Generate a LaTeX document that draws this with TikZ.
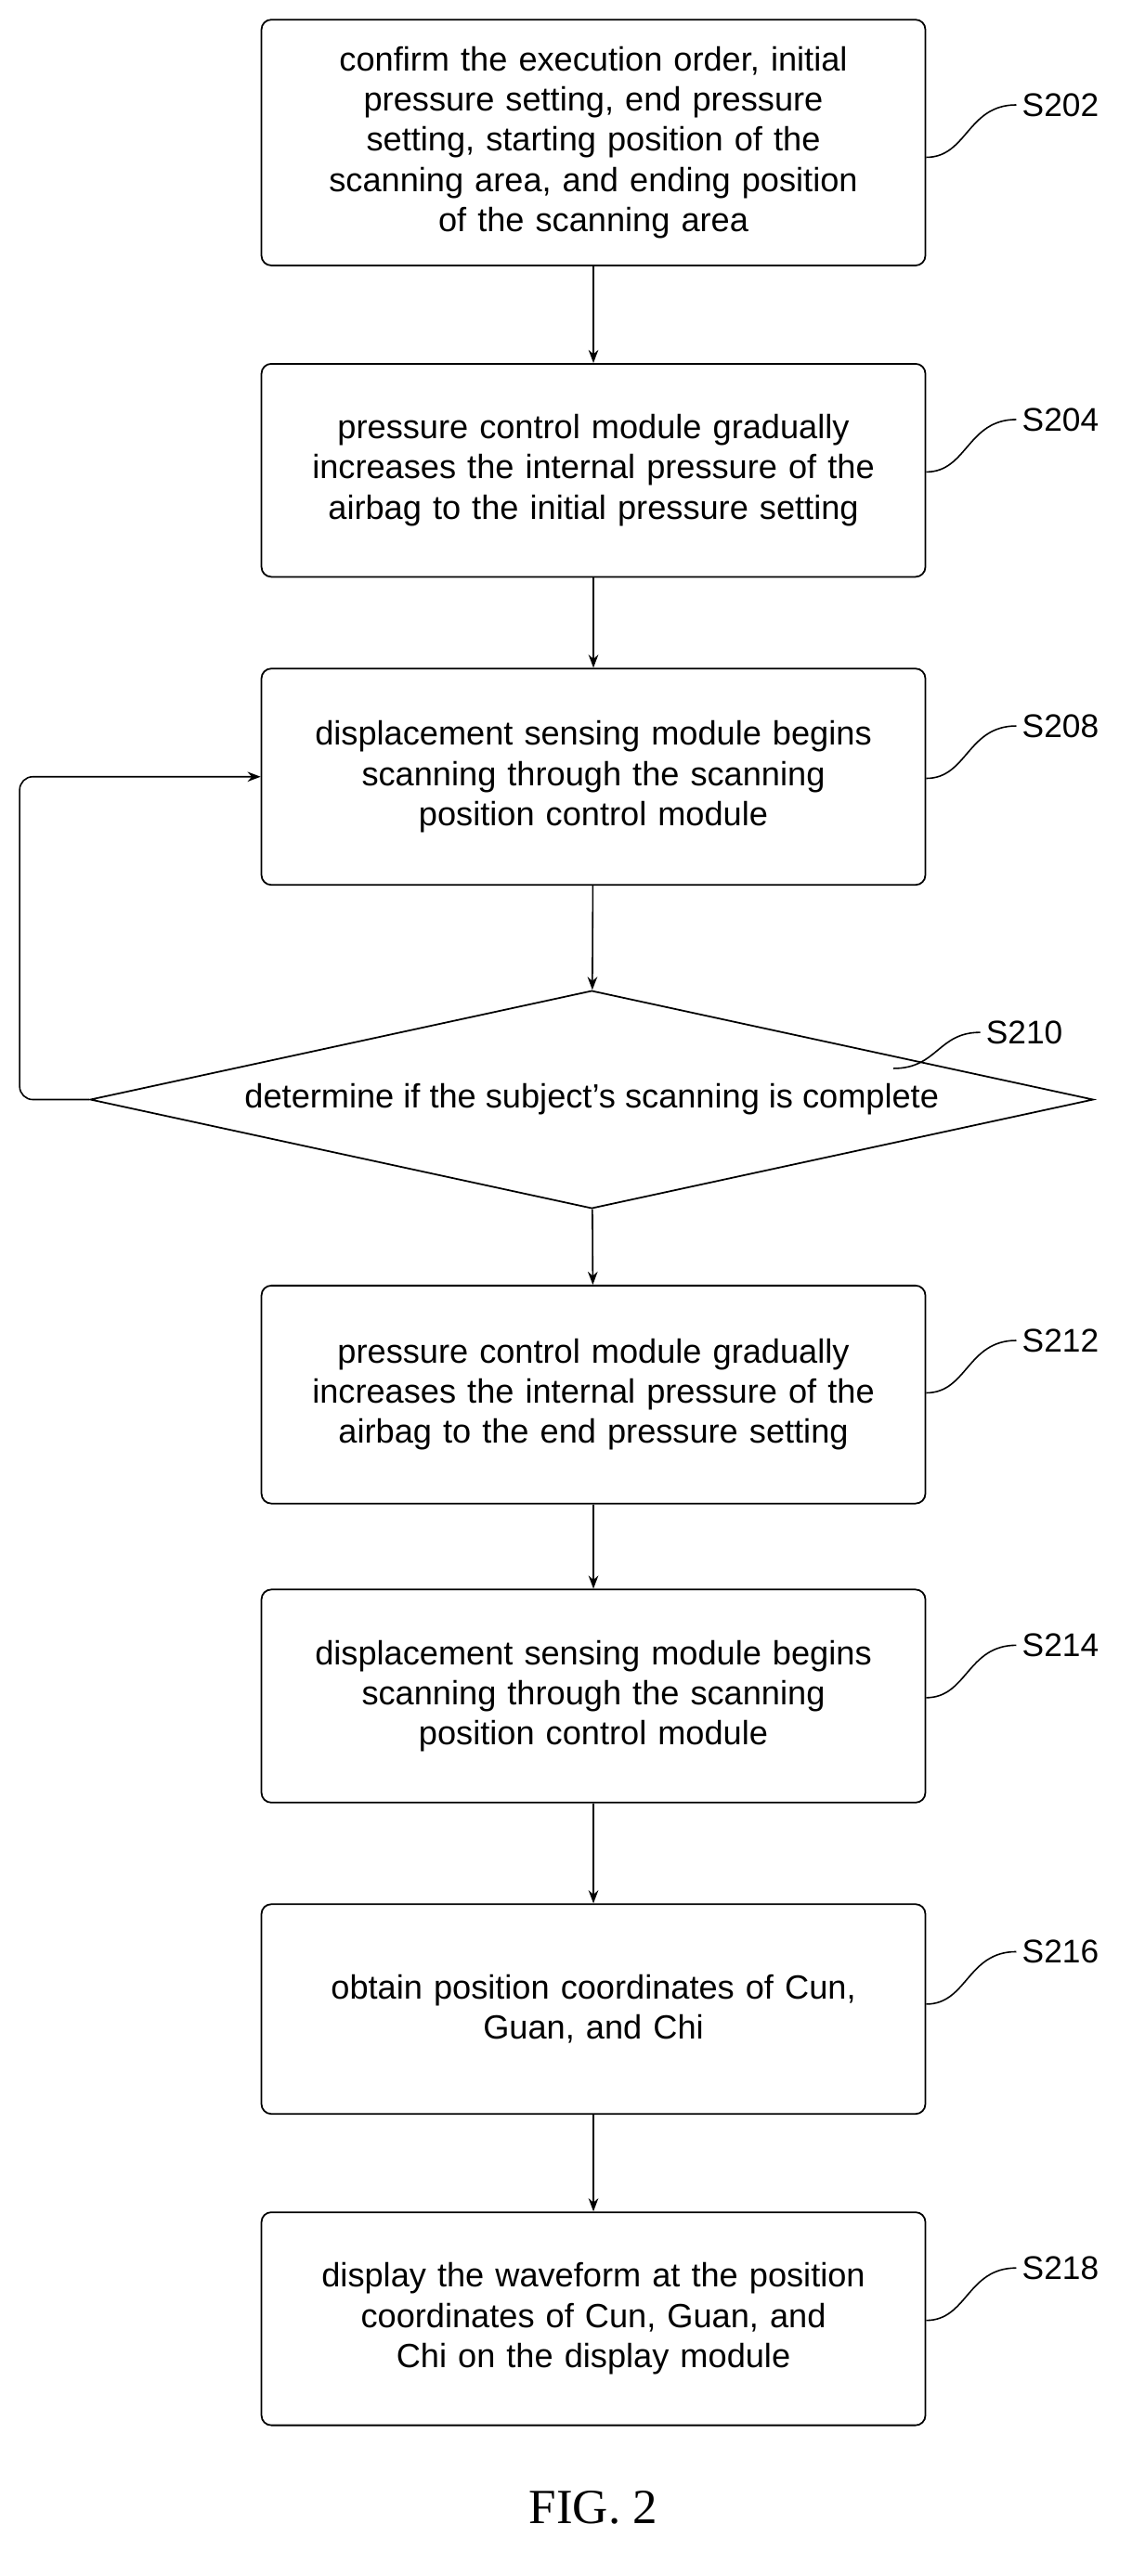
\documentclass[tikz,border=0pt]{standalone}
\usepackage{fontspec}
\setmainfont{Liberation Sans}
\newfontfamily\figfont{Liberation Serif}
\usetikzlibrary{shapes.geometric,arrows.meta}
\begin{document}
\begin{tikzpicture}[x=1pt,y=-1pt,
  box/.style={draw,rounded corners=6pt,line width=1pt,minimum width=405pt,align=center,font=\fontsize{20.5}{24.5}\selectfont,text width=400pt,inner sep=0pt},
  lab/.style={font=\fontsize{20}{24}\selectfont,anchor=west},
  arr/.style={-{Stealth[length=8pt,width=6pt]},line width=0.9pt},
  cv/.style={line width=0.9pt}]
\useasboundingbox (0,0) rectangle (690,1572);
\node[box,minimum height=150pt] (b1) at (362,87) {confirm the execution order, initial\\pressure setting, end pressure\\setting, starting position of the\\scanning area, and ending position\\of the scanning area};
\node[box,minimum height=130pt] (b2) at (362,287) {pressure control module gradually\\increases the internal pressure of the\\airbag to the initial pressure setting};
\node[box,minimum height=132pt] (b3) at (362,474) {displacement sensing module begins\\scanning through the scanning\\position control module};
\node[draw,diamond,aspect=4.6,line width=1pt,minimum width=612pt,minimum height=133pt,inner sep=0pt,font=\fontsize{20.5}{24.5}\selectfont] (d) at (361,671) {determine if the subject's scanning is complete};
\node[box,minimum height=133pt] (b4) at (362,851) {pressure control module gradually\\increases the internal pressure of the\\airbag to the end pressure setting};
\node[box,minimum height=130pt] (b5) at (362,1035) {displacement sensing module begins\\scanning through the scanning\\position control module};
\node[box,minimum height=128pt] (b6) at (362,1226) {obtain position coordinates of Cun,\\Guan, and Chi};
\node[box,minimum height=130pt] (b7) at (362,1415) {display the waveform at the position\\coordinates of Cun, Guan, and\\Chi on the display module};
\node[font=\figfont\fontsize{30}{34}\selectfont] (fig) at (362,1530) {FIG. 2};
\draw[arr] (b1) -- (b2);
\draw[arr] (b2) -- (b3);
\draw[arr] (b3) -- (d);
\draw[arr] (d) -- (b4);
\draw[arr] (b4) -- (b5);
\draw[arr] (b5) -- (b6);
\draw[arr] (b6) -- (b7);
\coordinate (lc) at (12,474);
\draw[arr,rounded corners=8pt] (d.west) -| (lc) -- (b3.west);
\foreach \n/\y/\t in {b1/78/S202,b2/270/S204,b3/457/S208,b4/832/S212,b5/1018/S214,b6/1205/S216,b7/1398/S218}{
  \node[lab] (l\n) at (620,\y-14) {\t};
  \draw[cv] (\n.east|-0,\y+18) .. controls (590,\y+18) and (590,\y-14) .. (l\n.west);
}
\node[lab] (ld) at (598,630) {S210};
\draw[cv] (545,652) .. controls (572,652) and (572,630) .. (ld.west);
\end{tikzpicture}
\end{document}
